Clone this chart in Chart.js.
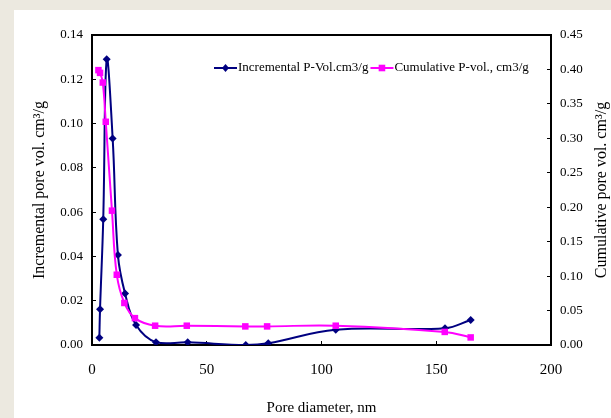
<!DOCTYPE html>
<html>
<head>
<meta charset="utf-8">
<script src="https://cdn.jsdelivr.net/npm/chart.js@4.4.1/dist/chart.umd.min.js"></script>
<style>
    html, body { margin: 0; padding: 0; background: #ece9e0; overflow: hidden; }
    #panel { position: absolute; left: 14px; top: 10px; right: 0; bottom: 0; background: #fff; }
    #poreChart { position: absolute; left: 0; top: 0; }
</style>
</head>
<body>
<div id="panel"></div>
<canvas id="poreChart" width="611" height="418"></canvas>
<script>
// values
var incDiameter = [3.2, 3.5, 4.9, 6.4, 9.0, 11.3, 14.4, 19.2, 27.9, 41.7, 67.0, 76.8, 106.2, 153.8, 165.0];
var incVolume = [0.0033, 0.0161, 0.0568, 0.1290, 0.0933, 0.0406, 0.0233, 0.0090, 0.0012, 0.0012, 0.0000, 0.0008, 0.0069, 0.0076, 0.0113];
var cumDiameter = [2.8, 3.5, 4.7, 6.0, 8.7, 10.8, 14.1, 18.7, 27.5, 41.3, 66.8, 76.3, 106.2, 153.7, 165.0];
var cumVolume = [0.399, 0.395, 0.381, 0.324, 0.195, 0.102, 0.061, 0.039, 0.028, 0.028, 0.027, 0.027, 0.028, 0.019, 0.011];
var seriesLabels = ['Incremental P-Vol.cm3/g', 'Cumulative P-vol., cm3/g'];
var rightTitle = 'Cumulative pore vol. cm³/g';

var serif = '"Liberation Serif", "Times New Roman", serif';
Chart.defaults.font.family = serif;
Chart.defaults.color = '#000';

function toPoints(xs, ys) {
    return xs.map(function (x, i) { return {x: x, y: ys[i]}; });
}

// legend sits inside the plot frame, as in the original
var insideLegend = {
    id: 'insideLegend',
    afterDraw: function (chart) {
        var ctx = chart.ctx;
        var x = 214, y = 68;
        ctx.save();
        ctx.font = '13px ' + serif;
        ctx.textBaseline = 'middle';
        chart.data.datasets.forEach(function (ds) {
            ctx.strokeStyle = ds.borderColor;
            ctx.fillStyle = ds.borderColor;
            ctx.lineWidth = 2;
            ctx.beginPath();
            ctx.moveTo(x, y);
            ctx.lineTo(x + 23, y);
            ctx.stroke();
            var cx = x + 11.5;
            ctx.beginPath();
            if (ds.pointStyle === 'rectRot') {
                ctx.moveTo(cx, y - 4);
                ctx.lineTo(cx + 3.5, y);
                ctx.lineTo(cx, y + 4);
                ctx.lineTo(cx - 3.5, y);
                ctx.closePath();
            } else {
                ctx.rect(cx - 3.3, y - 3.3, 6.6, 6.6);
            }
            ctx.fill();
            ctx.fillStyle = '#000';
            ctx.fillText(ds.label, x + 24, y);
            x += 24 + ctx.measureText(ds.label).width + 2;
        });
        ctx.restore();
    }
};

// top edge of the frame, and the right title reading bottom-to-top like the left one
var frameExtras = {
    id: 'frameExtras',
    afterDraw: function (chart) {
        var a = chart.chartArea, ctx = chart.ctx;
        ctx.save();
        ctx.strokeStyle = '#000';
        ctx.lineWidth = 2;
        ctx.beginPath();
        ctx.moveTo(a.left - 1, a.top);
        ctx.lineTo(a.right + 1, a.top);
        ctx.stroke();
        ctx.translate(602, (a.top + a.bottom) / 2);
        ctx.rotate(-Math.PI / 2);
        ctx.font = '16px ' + serif;
        ctx.fillStyle = '#000';
        ctx.textAlign = 'center';
        ctx.textBaseline = 'middle';
        ctx.fillText(rightTitle, 0, 0);
        ctx.restore();
    }
};

var axisGrid = {drawOnChartArea: false, drawTicks: true, tickLength: -4, color: '#000', lineWidth: 1};
var axisBorder = {color: '#000', width: 2};

new Chart(document.getElementById('poreChart'), {
    type: 'line',
    data: {
        datasets: [
            {
                label: seriesLabels[0],
                data: toPoints(incDiameter, incVolume),
                yAxisID: 'y',
                borderColor: '#000080',
                backgroundColor: '#000080',
                borderWidth: 2,
                pointStyle: 'rectRot',
                pointRadius: 4,
                pointBorderWidth: 0,
                tension: 0.4,
                order: 1
            },
            {
                label: seriesLabels[1],
                data: toPoints(cumDiameter, cumVolume),
                yAxisID: 'y1',
                borderColor: '#ff00ff',
                backgroundColor: '#ff00ff',
                borderWidth: 2,
                pointStyle: 'rect',
                pointRadius: 4.6,
                pointBorderWidth: 0,
                tension: 0.4,
                order: 0
            }
        ]
    },
    options: {
        responsive: false,
        animation: false,
        devicePixelRatio: 1,
        layout: {padding: {top: 35, left: 0, right: 0, bottom: 0}},
        plugins: {legend: {display: false}, tooltip: {enabled: false}},
        scales: {
            x: {
                type: 'linear',
                position: 'bottom',
                min: 0,
                max: 200,
                ticks: {stepSize: 50, font: {size: 15}, padding: 20},
                grid: axisGrid,
                border: axisBorder,
                title: {display: true, text: 'Pore diameter, nm', font: {size: 15}, padding: {top: 0, bottom: 1}},
                afterFit: function (s) { s.height = 73; }
            },
            y: {
                position: 'left',
                min: 0,
                max: 0.14,
                ticks: {stepSize: 0.02, font: {size: 13}, padding: 13,
                    callback: function (v) { return v.toFixed(2); }},
                grid: axisGrid,
                border: axisBorder,
                title: {display: true, text: 'Incremental pore vol. cm³/g', font: {size: 16}, padding: {top: 30, bottom: 0}},
                afterFit: function (s) { s.width = 92; }
            },
            y1: {
                position: 'right',
                min: 0,
                max: 0.45,
                ticks: {stepSize: 0.05, font: {size: 13}, padding: 13,
                    callback: function (v) { return v.toFixed(2); }},
                grid: axisGrid,
                border: axisBorder,
                title: {display: false},
                afterFit: function (s) { s.width = 60; }
            }
        }
    },
    plugins: [insideLegend, frameExtras]
});
</script>
</body>
</html>
